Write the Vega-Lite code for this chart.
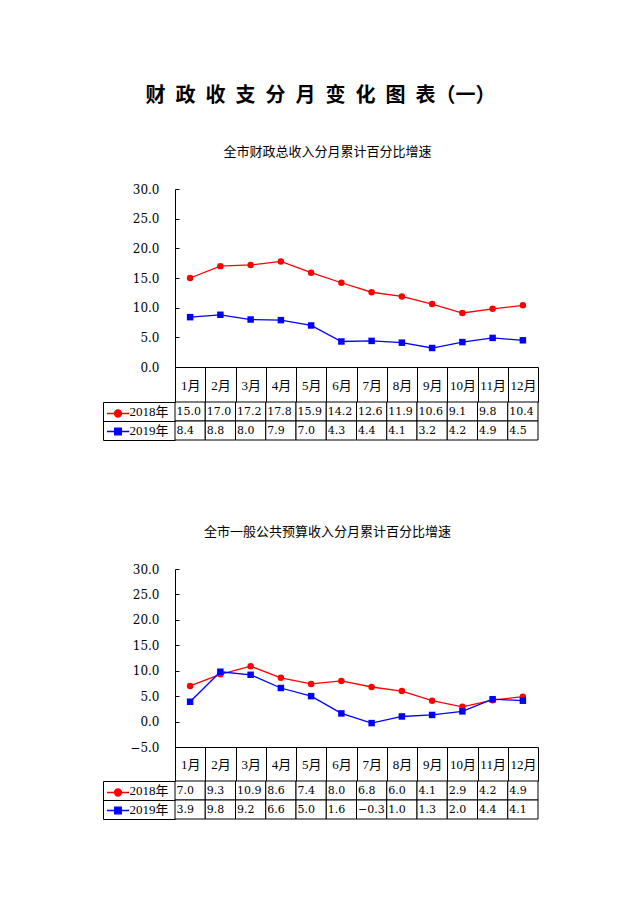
{
  "$schema": "https://vega.github.io/schema/vega-lite/v6.json",
  "background": "white",
  "padding": {"left": 102, "top": 86, "right": 0, "bottom": 0},
  "title": {
    "text": "财\u2002政\u2002收\u2002支\u2002分\u2002月\u2002变\u2002化\u2002图\u2002表（一）",
    "font": "Noto Sans CJK SC",
    "fontSize": 20,
    "fontWeight": "bold",
    "color": "black",
    "anchor": "middle",
    "offset": 40
  },
  "config": {
    "view": {"stroke": null},
    "font": "Liberation Serif, Noto Sans CJK SC",
    "title": {"color": "black", "font": "Noto Sans CJK SC", "fontWeight": "normal"},
    "legend": {
      "orient": "none", "legendX": -61.5, "title": null,
      "labelExpr": "''", "labelFontSize": 1, "symbolSize": 49, "rowPadding": 5, "padding": 0,
      "symbolStrokeWidth": 1.3, "symbolOpacity": 1
    }
  },
  "datasets": {
    "d1": [
      {"month": "1月", "year": "2018年", "value": 15.0},
      {"month": "2月", "year": "2018年", "value": 17.0},
      {"month": "3月", "year": "2018年", "value": 17.2},
      {"month": "4月", "year": "2018年", "value": 17.8},
      {"month": "5月", "year": "2018年", "value": 15.9},
      {"month": "6月", "year": "2018年", "value": 14.2},
      {"month": "7月", "year": "2018年", "value": 12.6},
      {"month": "8月", "year": "2018年", "value": 11.9},
      {"month": "9月", "year": "2018年", "value": 10.6},
      {"month": "10月", "year": "2018年", "value": 9.1},
      {"month": "11月", "year": "2018年", "value": 9.8},
      {"month": "12月", "year": "2018年", "value": 10.4},
      {"month": "1月", "year": "2019年", "value": 8.4},
      {"month": "2月", "year": "2019年", "value": 8.8},
      {"month": "3月", "year": "2019年", "value": 8.0},
      {"month": "4月", "year": "2019年", "value": 7.9},
      {"month": "5月", "year": "2019年", "value": 7.0},
      {"month": "6月", "year": "2019年", "value": 4.3},
      {"month": "7月", "year": "2019年", "value": 4.4},
      {"month": "8月", "year": "2019年", "value": 4.1},
      {"month": "9月", "year": "2019年", "value": 3.2},
      {"month": "10月", "year": "2019年", "value": 4.2},
      {"month": "11月", "year": "2019年", "value": 4.9},
      {"month": "12月", "year": "2019年", "value": 4.5}
    ],
    "d2": [
      {"month": "1月", "year": "2018年", "value": 7.0},
      {"month": "2月", "year": "2018年", "value": 9.3},
      {"month": "3月", "year": "2018年", "value": 10.9},
      {"month": "4月", "year": "2018年", "value": 8.6},
      {"month": "5月", "year": "2018年", "value": 7.4},
      {"month": "6月", "year": "2018年", "value": 8.0},
      {"month": "7月", "year": "2018年", "value": 6.8},
      {"month": "8月", "year": "2018年", "value": 6.0},
      {"month": "9月", "year": "2018年", "value": 4.1},
      {"month": "10月", "year": "2018年", "value": 2.9},
      {"month": "11月", "year": "2018年", "value": 4.2},
      {"month": "12月", "year": "2018年", "value": 4.9},
      {"month": "1月", "year": "2019年", "value": 3.9},
      {"month": "2月", "year": "2019年", "value": 9.8},
      {"month": "3月", "year": "2019年", "value": 9.2},
      {"month": "4月", "year": "2019年", "value": 6.6},
      {"month": "5月", "year": "2019年", "value": 5.0},
      {"month": "6月", "year": "2019年", "value": 1.6},
      {"month": "7月", "year": "2019年", "value": -0.3},
      {"month": "8月", "year": "2019年", "value": 1.0},
      {"month": "9月", "year": "2019年", "value": 1.3},
      {"month": "10月", "year": "2019年", "value": 2.0},
      {"month": "11月", "year": "2019年", "value": 4.4},
      {"month": "12月", "year": "2019年", "value": 4.1}
    ]
  },
  "spacing": 85,
  "resolve": {
    "scale": {"x": "independent", "y": "independent", "color": "independent", "shape": "independent", "stroke": "independent"},
    "legend": {"color": "independent", "shape": "independent", "stroke": "independent"}
  },
  "vconcat": [
    {
      "bounds": "flush",
      "spacing": 35,
      "resolve": {
        "scale": {"x": "independent", "y": "independent", "color": "independent", "shape": "independent", "stroke": "independent"},
        "legend": {"color": "independent", "shape": "independent", "stroke": "independent"}
      },
      "vconcat": [
        {
          "width": 363,
          "height": 178,
          "data": {"name": "d1"},
          "title": {"text": "全市财政总收入分月累计百分比增速", "fontSize": 13, "frame": "group", "anchor": "middle", "dx": -29, "offset": 24},
          "encoding": {
            "x": {
              "field": "month", "type": "nominal",
              "sort": ["1月","2月","3月","4月","5月","6月","7月","8月","9月","10月","11月","12月"],
              "scale": {"paddingInner": 0, "paddingOuter": 0},
              "axis": {"title": null, "domain": true, "domainColor": "black", "domainWidth": 1, "ticks": true, "tickBand": "extent", "tickSize": 35, "tickColor": "black", "tickWidth": 1, "labelAngle": 0, "labelPadding": -17, "labelBaseline": "middle", "labelFont": "Liberation Serif, Noto Sans CJK SC", "labelFontSize": 13, "labelColor": "black", "grid": false}
            },
            "y": {
              "field": "value", "type": "quantitative",
              "scale": {"domain": [0, 30], "nice": false, "zero": false},
              "axis": {"title": null, "values": [0, 5, 10, 15, 20, 25, 30], "format": ".1f", "domain": true, "domainColor": "black", "ticks": true, "tickSize": -4, "tickColor": "black", "labelPadding": 20, "labelFont": "DejaVu Serif", "labelFontSize": 12, "labelColor": "black", "grid": false}
            }
          },
          "layer": [
            {
              "mark": {"type": "line", "strokeWidth": 1.3},
              "encoding": {
                "stroke": {"field": "year", "type": "nominal", "scale": {"domain": ["2019年", "2018年"], "range": ["#0000FF", "#FF0000"]}, "legend": null}
              }
            },
            {
              "mark": {"type": "point", "filled": true, "opacity": 1, "size": 42},
              "encoding": {
                "shape": {"field": "year", "type": "nominal", "scale": {"domain": ["2019年", "2018年"], "range": ["square", "circle"]}, "legend": null},
                "color": {
                  "field": "year", "type": "nominal",
                  "scale": {"domain": ["2018年", "2019年"], "range": ["#FF0000", "#0000FF"]},
                  "legend": {
                    "legendY": 220,
                    "symbolType": {"expr": "datum.value === '2018年' ? 'M-3.15,0H3.15M-1,0A1,1,0,1,1,1,0A1,1,0,1,1,-1,0Z' : 'M-3.15,0H3.15M-0.95,-0.95H0.95V0.95H-0.95Z'"},
                    "symbolStrokeColor": {"expr": "datum.value === '2018年' ? '#FF0000' : '#0000FF'"}
                  }
                }
              }
            }
          ]
        },
        {
          "width": 363,
          "height": 38,
          "data": {"name": "d1"},
          "encoding": {
            "x": {
              "field": "month", "type": "nominal",
              "sort": ["1月","2月","3月","4月","5月","6月","7月","8月","9月","10月","11月","12月"],
              "scale": {"paddingInner": 0, "paddingOuter": 0},
              "axis": null
            },
            "y": {
              "field": "year", "type": "nominal",
              "scale": {"domain": ["2018年", "2019年"], "paddingInner": 0, "paddingOuter": 0},
              "axis": {"title": null, "orient": "left", "offset": 72, "domain": true, "domainColor": "black", "ticks": true, "tickBand": "extent", "tickSize": -72, "tickColor": "black", "labelPadding": 7, "labelFont": "Liberation Serif, Noto Sans CJK SC", "labelFontSize": 13, "labelColor": "black", "grid": false}
            }
          },
          "layer": [
            {"mark": {"type": "rect", "fill": "white", "stroke": "black", "strokeWidth": 1}},
            {
              "mark": {"type": "text", "align": "left", "baseline": "middle", "dx": 1.5, "font": "DejaVu Serif", "fontSize": 11, "color": "black"},
              "encoding": {
                "x": {"field": "month", "type": "nominal", "bandPosition": 0, "sort": ["1月","2月","3月","4月","5月","6月","7月","8月","9月","10月","11月","12月"]},
                "text": {"field": "value", "type": "quantitative", "format": ".1f"}
              }
            }
          ]
        }
      ]
    },
    {
      "bounds": "flush",
      "spacing": 34,
      "resolve": {
        "scale": {"x": "independent", "y": "independent", "color": "independent", "shape": "independent", "stroke": "independent"},
        "legend": {"color": "independent", "shape": "independent", "stroke": "independent"}
      },
      "vconcat": [
        {
          "width": 363,
          "height": 178,
          "data": {"name": "d2"},
          "title": {"text": "全市一般公共预算收入分月累计百分比增速", "fontSize": 13, "frame": "group", "anchor": "middle", "dx": -29, "offset": 24},
          "encoding": {
            "x": {
              "field": "month", "type": "nominal",
              "sort": ["1月","2月","3月","4月","5月","6月","7月","8月","9月","10月","11月","12月"],
              "scale": {"paddingInner": 0, "paddingOuter": 0},
              "axis": {"title": null, "domain": true, "domainColor": "black", "domainWidth": 1, "ticks": true, "tickBand": "extent", "tickSize": 34, "tickColor": "black", "tickWidth": 1, "labelAngle": 0, "labelPadding": -17, "labelBaseline": "middle", "labelFont": "Liberation Serif, Noto Sans CJK SC", "labelFontSize": 13, "labelColor": "black", "grid": false}
            },
            "y": {
              "field": "value", "type": "quantitative",
              "scale": {"domain": [-5, 30], "nice": false, "zero": false},
              "axis": {"title": null, "values": [-5, 0, 5, 10, 15, 20, 25, 30], "format": ".1f", "domain": true, "domainColor": "black", "ticks": true, "tickSize": -4, "tickColor": "black", "labelPadding": 20, "labelFont": "DejaVu Serif", "labelFontSize": 12, "labelColor": "black", "grid": false}
            }
          },
          "layer": [
            {
              "mark": {"type": "line", "strokeWidth": 1.3},
              "encoding": {
                "stroke": {"field": "year", "type": "nominal", "scale": {"domain": ["2019年", "2018年"], "range": ["#0000FF", "#FF0000"]}, "legend": null}
              }
            },
            {
              "mark": {"type": "point", "filled": true, "opacity": 1, "size": 42},
              "encoding": {
                "shape": {"field": "year", "type": "nominal", "scale": {"domain": ["2019年", "2018年"], "range": ["square", "circle"]}, "legend": null},
                "color": {
                  "field": "year", "type": "nominal",
                  "scale": {"domain": ["2018年", "2019年"], "range": ["#FF0000", "#0000FF"]},
                  "legend": {
                    "legendY": 219,
                    "symbolType": {"expr": "datum.value === '2018年' ? 'M-3.15,0H3.15M-1,0A1,1,0,1,1,1,0A1,1,0,1,1,-1,0Z' : 'M-3.15,0H3.15M-0.95,-0.95H0.95V0.95H-0.95Z'"},
                    "symbolStrokeColor": {"expr": "datum.value === '2018年' ? '#FF0000' : '#0000FF'"}
                  }
                }
              }
            }
          ]
        },
        {
          "width": 363,
          "height": 38,
          "data": {"name": "d2"},
          "encoding": {
            "x": {
              "field": "month", "type": "nominal",
              "sort": ["1月","2月","3月","4月","5月","6月","7月","8月","9月","10月","11月","12月"],
              "scale": {"paddingInner": 0, "paddingOuter": 0},
              "axis": null
            },
            "y": {
              "field": "year", "type": "nominal",
              "scale": {"domain": ["2018年", "2019年"], "paddingInner": 0, "paddingOuter": 0},
              "axis": {"title": null, "orient": "left", "offset": 72, "domain": true, "domainColor": "black", "ticks": true, "tickBand": "extent", "tickSize": -72, "tickColor": "black", "labelPadding": 7, "labelFont": "Liberation Serif, Noto Sans CJK SC", "labelFontSize": 13, "labelColor": "black", "grid": false}
            }
          },
          "layer": [
            {"mark": {"type": "rect", "fill": "white", "stroke": "black", "strokeWidth": 1}},
            {
              "mark": {"type": "text", "align": "left", "baseline": "middle", "dx": 1.5, "font": "DejaVu Serif", "fontSize": 11, "color": "black"},
              "encoding": {
                "x": {"field": "month", "type": "nominal", "bandPosition": 0, "sort": ["1月","2月","3月","4月","5月","6月","7月","8月","9月","10月","11月","12月"]},
                "text": {"field": "value", "type": "quantitative", "format": ".1f"}
              }
            }
          ]
        }
      ]
    }
  ]
}
